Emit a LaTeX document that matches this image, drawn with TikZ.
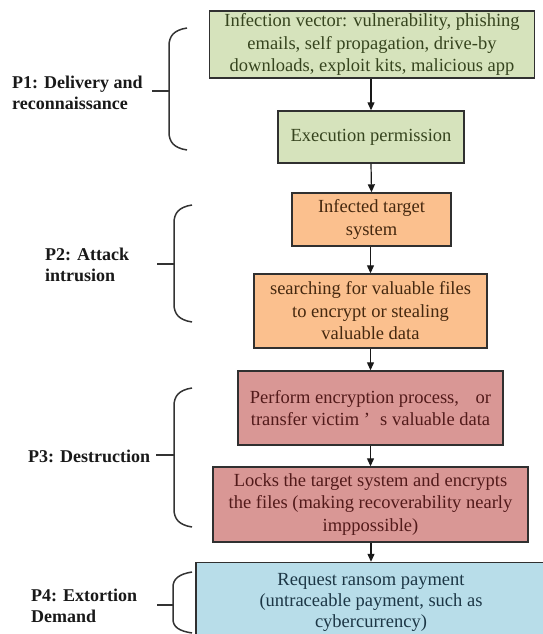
\documentclass[tikz,border=0pt]{standalone}
\usepackage{fontspec}
\setmainfont{Liberation Serif}
\usetikzlibrary{arrows.meta}
\definecolor{gfill}{HTML}{D6E3BC}
\definecolor{ofill}{HTML}{FBC08E}
\definecolor{rfill}{HTML}{D99795}
\definecolor{bfill}{HTML}{B8DDE9}
\definecolor{gtext}{HTML}{36441E}
\definecolor{otext}{HTML}{45280F}
\definecolor{rtext}{HTML}{521A1A}
\definecolor{btext}{HTML}{1C3645}
\definecolor{edge}{HTML}{303030}
\begin{document}
\begin{tikzpicture}[x=1pt,y=-1pt,
  box/.style={draw=edge, line width=1.4pt, align=center, inner sep=0pt,
    font=\fontsize{18.5}{22.5}\selectfont},
  lab/.style={align=left, inner sep=0pt, anchor=west, text=black!90,
    font=\fontsize{18}{21}\selectfont\bfseries},
  arr/.style={draw=black!90, line width=1.2pt, -{Triangle[length=8pt,width=7pt]}},
  br/.style={draw=black!80, line width=1.5pt}]
\useasboundingbox (0,0) rectangle (542,634);

\node[box, fill=gfill, text=gtext, minimum width=325, minimum height=67] (b1) at (372,44.5)
  {Infection vector: vulnerability, phishing\\emails, self propagation, drive-by\\downloads, exploit kits, malicious app};
\node[box, fill=gfill, text=gtext, minimum width=186, minimum height=52] (b2) at (371,137)
  {Execution permission};
\node[box, fill=ofill, text=otext, minimum width=159, minimum height=53] (b3) at (371.5,219.5)
  {Infected target\\system};
\node[box, fill=ofill, text=otext, minimum width=233, minimum height=74] (b4) at (370.5,311)
  {searching for valuable files\\to encrypt or stealing\\valuable data};
\node[box, fill=rfill, text=rtext, minimum width=265, minimum height=74] (b5) at (370.5,408)
  {Perform encryption process,\hspace{0.9em}or\\transfer victim\hspace{0.25em}’\hspace{0.55em}s valuable data};
\node[box, fill=rfill, text=rtext, minimum width=315, minimum height=75] (b6) at (370.5,504.5)
  {Locks the target system and encrypts\\the files (making recoverability nearly\\imppossible)};
\node[box, fill=bfill, text=btext, minimum width=350, minimum height=80,
  font=\fontsize{18.5}{21}\selectfont] (b7) at (371,602.5)
  {Request ransom payment\\(untraceable payment, such as\\cybercurrency)};

\draw[arr] (b1.south -| b2.north) -- (b2.north);
\draw[arr] (b2.south) -- (b3.north);
\draw[arr] (b3.south -| b4.north) -- (b4.north);
\draw[arr] (b4.south -| b5.north) -- (b5.north);
\draw[arr] (b5.south -| b6.north) -- (b6.north);
\draw[arr] (b6.south -| b7.north) -- (b7.north);

% P1
\node[lab] (p1) at (12,93) {P1: Delivery and\\reconnaissance};
\coordinate (m1) at (169,91);
\coordinate (t1) at (152,91);
\draw[br] (187,28) .. controls (174,30) and (169,36) .. (169,46) -- (169,132) .. controls (169,142) and (174,148) .. (187,150);
\draw[br] (t1) -- (m1);
% P2
\node[lab] (p2) at (45,265) {P2: Attack\\intrusion};
\coordinate (m2) at (174,264);
\coordinate (t2) at (157,264);
\draw[br] (192,205) .. controls (179,207) and (174,213) .. (174,223) -- (174,304) .. controls (174,314) and (179,320) .. (192,322);
\draw[br] (t2) -- (m2);
% P3
\node[lab] (p3) at (28,456) {P3: Destruction};
\coordinate (m3) at (174,455);
\coordinate (t3) at (156,455);
\draw[br] (192,388) .. controls (179,390) and (174,396) .. (174,406) -- (174,509) .. controls (174,519) and (179,525) .. (192,527);
\draw[br] (t3) -- (m3);
% P4
\node[lab] (p4) at (31,606) {P4: Extortion\\Demand};
\coordinate (m4) at (173,605);
\coordinate (t4) at (157,605);
\draw[br] (192,572) .. controls (179,574) and (173,579) .. (173,587) -- (173,619) .. controls (173,627) and (179,631) .. (192,633);
\draw[br] (t4) -- (m4);
\end{tikzpicture}
\end{document}
